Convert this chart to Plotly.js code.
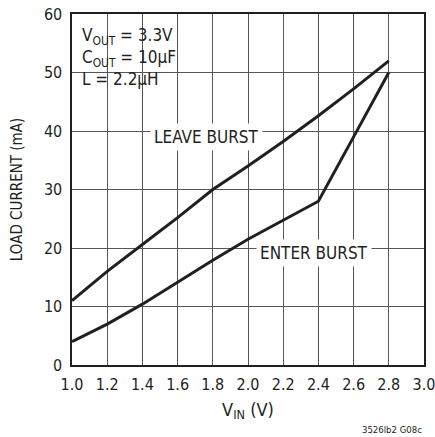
<!DOCTYPE html>
<html>
<head>
<meta charset="utf-8">
<script src="https://cdn.plot.ly/plotly-3.0.1.min.js"></script>
<style>
  html, body { margin: 0; padding: 0; background: #fff; }
  #chart { width: 435px; height: 437px; }
  #chart svg text { font-stretch: condensed; }
</style>
</head>
<body>
<div id="chart"></div>
<script>
// Data
const vin = [1.0, 1.2, 1.4, 1.6, 1.8, 2.0, 2.2, 2.4, 2.6, 2.8];
const leaveBurst = [11, 16, 20.6, 25.2, 30, 34, 38.2, 42.6, 47.2, 52];
const enterBurst = [4, 7, 10.4, 14.2, 17.9, 21.5, 24.8, 28, 39, 50];
const xTickVals = [1.0, 1.2, 1.4, 1.6, 1.8, 2.0, 2.2, 2.4, 2.6, 2.8, 3.0];
const xTickText = ["1.0", "1.2", "1.4", "1.6", "1.8", "2.0", "2.2", "2.4", "2.6", "2.8", "3.0"];
const yTickVals = [0, 10, 20, 30, 40, 50, 60];
const seriesNames = ["LEAVE BURST", "ENTER BURST"];

const FONT = '"DejaVu Sans Condensed", "Liberation Sans Narrow", Roboto, "Liberation Sans", sans-serif';
const INK = '#231f20';

const traces = [
  { x: vin, y: leaveBurst, name: seriesNames[0], type: 'scatter', mode: 'lines',
    line: { color: INK, width: 3 }, hoverinfo: 'skip' },
  { x: vin, y: enterBurst, name: seriesNames[1], type: 'scatter', mode: 'lines',
    line: { color: INK, width: 3 }, hoverinfo: 'skip' }
];

const layout = {
  width: 435, height: 437,
  margin: { l: 72, r: 11, t: 14, b: 72 },
  paper_bgcolor: '#fff', plot_bgcolor: '#fff',
  showlegend: false,
  font: { family: FONT, color: INK, size: 16 },
  xaxis: {
    range: [1.0, 3.0], tickvals: xTickVals, ticktext: xTickText,
    showgrid: true, gridcolor: '#555', gridwidth: 1,
    showline: true, linecolor: INK, linewidth: 1.6, mirror: true,
    ticks: '', zeroline: false, fixedrange: true, ticklabeloverflow: 'allow',
    ticklabelstandoff: 4,
    tickfont: { family: FONT, size: 16, color: INK },
    title: { text: 'V<sub>IN</sub> (V)', font: { family: FONT, size: 18, color: INK }, standoff: 10 }
  },
  yaxis: {
    range: [0, 60], tickvals: yTickVals,
    showgrid: true, gridcolor: '#555', gridwidth: 1,
    showline: true, linecolor: INK, linewidth: 1.6, mirror: true,
    ticks: '', zeroline: false, fixedrange: true, ticklabeloverflow: 'allow',
    ticklabelstandoff: 5,
    tickfont: { family: FONT, size: 16, color: INK },
    title: { text: 'LOAD CURRENT (mA)', font: { family: FONT, size: 15, color: INK }, standoff: 17 }
  },
  shapes: [
    { type: 'rect', xref: 'paper', yref: 'paper', x0: 0.004, x1: 0.304, y0: 0.792, y1: 0.996,
      fillcolor: '#fff', line: { width: 0 }, layer: 'between' }
  ],
  annotations: [
    { xref: 'paper', yref: 'paper', x: 0.024, y: 0.975, xanchor: 'left', yanchor: 'top',
      align: 'left', showarrow: false,
      text: 'V<sub>OUT</sub> = 3.3V<br>C<sub>OUT</sub> = 10µF<br>L = 2.2µH',
      font: { family: FONT, size: 17, color: INK } },
    { xref: 'x', yref: 'y', x: 1.764, y: 39.0, showarrow: false, text: seriesNames[0],
      bgcolor: '#fff', borderpad: 3, font: { family: FONT, size: 17, color: INK } },
    { xref: 'x', yref: 'y', x: 2.375, y: 19.1, showarrow: false, text: seriesNames[1],
      bgcolor: '#fff', borderpad: 3, font: { family: FONT, size: 17, color: INK } },
    { xref: 'paper', yref: 'paper', x: 1.0, y: -0.185, xanchor: 'right', yanchor: 'middle',
      showarrow: false, text: '3526lb2 G08c',
      font: { family: FONT, size: 9.5, color: INK } }
  ]
};

Plotly.newPlot('chart', traces, layout, { staticPlot: true, displayModeBar: false });
</script>
</body>
</html>
